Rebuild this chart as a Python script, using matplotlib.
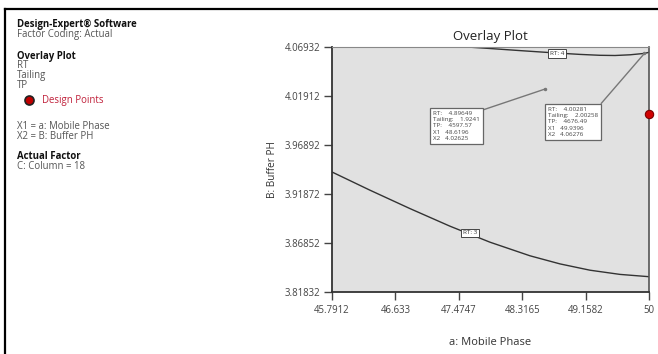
import matplotlib
matplotlib.use("Agg")
import matplotlib.pyplot as plt
from matplotlib.lines import Line2D

plt.rcParams["font.family"] = ["Open Sans", "DejaVu Sans"]

# axis ranges and ticks
X_TICKS = [45.7912, 46.633, 47.4747, 48.3165, 49.1582, 50]
Y_TICKS = [3.81832, 3.86852, 3.91872, 3.96892, 4.01912, 4.06932]
X_TICK_LABELS = ["45.7912", "46.633", "47.4747", "48.3165", "49.1582", "50"]
Y_TICK_LABELS = ["3.81832", "3.86852", "3.91872", "3.96892", "4.01912", "4.06932"]

# RT = 4 contour (near the top edge)
rt4_x = [47.5836, 47.8890, 48.2873, 48.6856, 49.0839, 49.3494, 49.5486, 49.7478,
         49.9396, 50.0]
rt4_y = [4.06932, 4.06778, 4.06563, 4.06358, 4.06174, 4.06082, 4.06061, 4.06133,
         4.06276, 4.06389]
# RT = 3 contour (lower)
rt3_x = [45.7912, 46.2957, 46.8268, 47.3579, 47.8890, 48.4201, 48.8184, 49.2167,
         49.6150, 50.0]
rt3_y = [3.94126, 3.92261, 3.90376, 3.88573, 3.86934, 3.85541, 3.84711, 3.84065,
         3.83635, 3.83400]

# flagged points
flag_pts = [
    {"RT": "4.89649", "Tailing": "1.9241", "TP": "4597.57", "X1": 48.6196, "X2": 4.02625},
    {"RT": "4.00281", "Tailing": "2.00258", "TP": "4676.49", "X1": 49.9396, "X2": 4.06276},
]
flag_box_xy = [(47.132, 4.00375), (48.659, 4.00785)]

# design point
design_x = [50.0]
design_y = [4.0007]

W, H = 658, 354
fig = plt.figure(figsize=(W / 100, H / 100), dpi=100)


def px(x, y):
    return x / W, 1 - y / H


# frame lines along top and left edge
fig.add_artist(Line2D([4.5 / W, 1], [1 - 9 / H, 1 - 9 / H], color="black", lw=1.6))
fig.add_artist(Line2D([4.5 / W, 4.5 / W], [0, 1 - 9 / H], color="black", lw=1.6))

# side legend text
side = [
    ("Design-Expert\u00ae Software", 26.7, "bold", "#111111"),
    ("Factor Coding: Actual", 37, "normal", "#555555"),
    ("Overlay Plot", 58.5, "bold", "#111111"),
    ("RT", 68.3, "normal", "#555555"),
    ("Tailing", 78, "normal", "#555555"),
    ("TP", 88.5, "normal", "#555555"),
    ("X1 = a: Mobile Phase", 129, "normal", "#555555"),
    ("X2 = B: Buffer PH", 139, "normal", "#555555"),
    ("Actual Factor", 159, "bold", "#111111"),
    ("C: Column = 18", 169, "normal", "#555555"),
]
for txt, yb, wt, col in side:
    fig.text(*px(17, yb), txt, fontsize=6.9, fontweight=wt, color=col,
             ha="left", va="baseline")
fig.add_artist(Line2D([29 / W], [1 - 100 / H], marker="o", markersize=6.5,
                      markerfacecolor="#c00000", markeredgecolor="#222222",
                      markeredgewidth=1.2, linestyle="none"))
fig.text(*px(41.5, 103), "Design Points", fontsize=6.9, color="#c0203a",
         ha="left", va="baseline")

ax = fig.add_axes([332 / W, 1 - 292 / H, (649 - 332) / W, (292 - 47) / H])
ax.set_facecolor("#e1e1e1")
ax.set_xlim(X_TICKS[0], X_TICKS[-1])
ax.set_ylim(Y_TICKS[0], Y_TICKS[-1])
ax.set_xticks(X_TICKS)
ax.set_xticklabels(X_TICK_LABELS)
ax.set_yticks(Y_TICKS)
ax.set_yticklabels(Y_TICK_LABELS)
ax.tick_params(direction="out", length=6, width=1, color="#444444",
               labelsize=6.9, labelcolor="#444444")
ax.tick_params(axis="x", pad=3.5)
ax.tick_params(axis="y", pad=2.5)
for s in ("left", "bottom"):
    ax.spines[s].set_color("#333333")
    ax.spines[s].set_linewidth(1.3)
ax.spines["top"].set_color("#888888")
ax.spines["right"].set_color("#555555")
ax.spines["right"].set_linewidth(1.2)

ax.plot(rt4_x, rt4_y, color="#333333", lw=1.0)
ax.plot(rt3_x, rt3_y, color="#333333", lw=1.0)

box = dict(boxstyle="square,pad=0.3", fc="white", ec="#444444", lw=0.7)
ax.text(48.779, 4.0630, "RT: 4", fontsize=4.6, ha="center", va="center",
        color="#333333", bbox=box)
ax.text(47.624, 3.8788, "RT: 3", fontsize=4.6, ha="center", va="center",
        color="#333333", bbox=box)

for p, (bx, by) in zip(flag_pts, flag_box_xy):
    label = (f"RT:    {p['RT']}\nTailing:    {p['Tailing']}\nTP:    {p['TP']}\n"
             f"X1   {p['X1']}\nX2   {p['X2']}")
    ax.annotate(label, xy=(p["X1"], p["X2"]), xytext=(bx, by),
                fontsize=4.5, color="#444444", ha="left", va="top",
                linespacing=1.3,
                bbox=dict(boxstyle="square,pad=0.5", fc="white", ec="#666666", lw=0.9),
                arrowprops=dict(arrowstyle="-", color="#777777", lw=1.0,
                                shrinkA=0, shrinkB=0, relpos=(1, 1)))
    ax.plot([p["X1"]], [p["X2"]], marker="o", markersize=1.5, color="#777777")

ax.plot(design_x, design_y, marker="o", markersize=6, markerfacecolor="#d00000",
        markeredgecolor="#7a0000", markeredgewidth=0.8, linestyle="none",
        clip_on=False, zorder=5)

ax.set_title("Overlay Plot", fontsize=9.5, color="#222222", pad=5)
ax.set_xlabel("a: Mobile Phase", fontsize=8, color="#333333", labelpad=15)
ax.set_ylabel("B: Buffer PH", fontsize=7.2, color="#333333", labelpad=5)

fig.savefig("out.png", dpi=100)
